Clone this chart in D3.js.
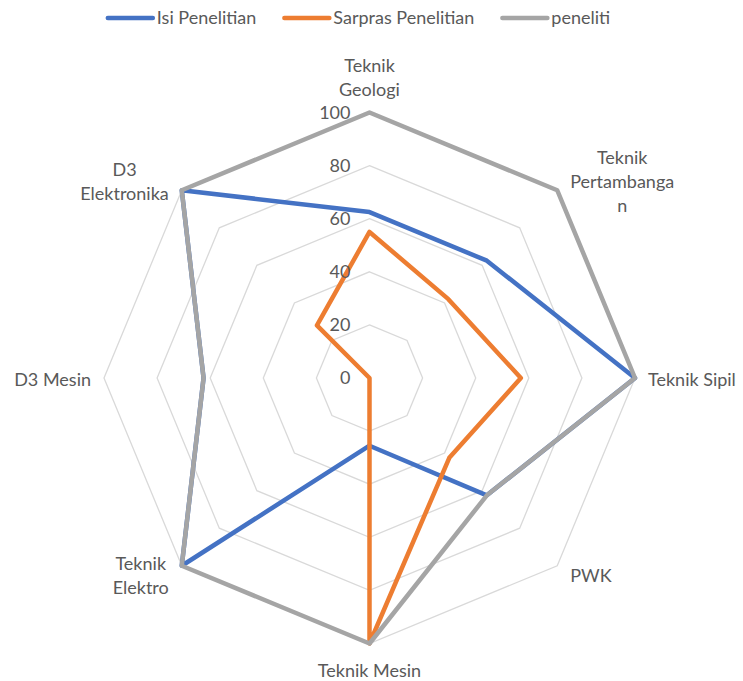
<!DOCTYPE html>
<html>
<head>
<meta charset="utf-8">
<script src="https://cdn.jsdelivr.net/npm/d3@7/dist/d3.min.js"></script>
<style>
  html, body { margin: 0; padding: 0; background: #ffffff; }
  svg { display: block; }
  text { font-family: Lato, "Open Sans", sans-serif; fill: #595959; }
</style>
</head>
<body>
<script>
// Radar chart: research scores per study programme
const categories = ["Teknik Geologi", "Teknik Pertambangan", "Teknik Sipil", "PWK",
                    "Teknik Mesin", "Teknik Elektro", "D3 Mesin", "D3 Elektronika"];
const categoryLines = [["Teknik", "Geologi"], ["Teknik", "Pertambanga", "n"], ["Teknik Sipil"], ["PWK"],
                       ["Teknik Mesin"], ["Teknik", "Elektro"], ["D3 Mesin"], ["D3", "Elektronika"]];
const seriesNames = ["Isi Penelitian", "Sarpras Penelitian", "peneliti"];
const isiPenelitian    = [62.5, 62.5, 100, 62.5, 25.5, 100, 62.5, 100];
const sarprasPenelitian = [55, 42, 57, 42.5, 100, 0, 0, 28];
const peneliti         = [100, 100, 100, 62.5, 100, 100, 62.5, 100];
const tickValues = [0, 20, 40, 60, 80, 100];
const seriesColors = ["#4472C4", "#ED7D31", "#A5A5A5"];

const W = 743, H = 681;
const cx = 369.5, cy = 378, R = 265.5;
const fontSize = 18;

const svg = d3.select("body").append("svg").attr("width", W).attr("height", H);

const rScale = d3.scaleLinear().domain([0, 100]).range([0, R]);
const angle = d3.scaleLinear().domain([0, categories.length]).range([0, 2 * Math.PI]);

const radial = d3.lineRadial()
  .angle((d, i) => angle(i))
  .radius(d => rScale(d))
  .curve(d3.curveLinearClosed);

const g = svg.append("g").attr("transform", `translate(${cx},${cy})`);

// grid rings
g.append("g").selectAll("path")
  .data(tickValues.filter(v => v > 0))
  .join("path")
  .attr("d", v => radial(categories.map(() => v)))
  .attr("fill", "none")
  .attr("stroke", "#D9D9D9")
  .attr("stroke-width", 1.3);

// series
const series = [isiPenelitian, sarprasPenelitian, peneliti];
g.append("g").selectAll("path")
  .data(series)
  .join("path")
  .attr("d", d => radial(d))
  .attr("fill", "none")
  .attr("stroke", (d, i) => seriesColors[i])
  .attr("stroke-width", 4.5)
  .attr("stroke-linejoin", "round");

// tick labels
g.append("g").selectAll("text")
  .data(tickValues)
  .join("text")
  .attr("x", -19)
  .attr("y", v => -rScale(v))
  .attr("dy", "0.35em")
  .attr("text-anchor", "end")
  .style("font-size", fontSize + "px")
  .text(v => v);

// category labels
const lineH = 24;
categories.forEach((c, i) => {
  const a = angle(i);
  const s = Math.sin(a), co = -Math.cos(a);
  const vx = rScale(100) * s, vy = rScale(100) * co;
  const lines = categoryLines[i];
  const grp = g.append("g");
  const texts = grp.selectAll("text").data(lines).join("text")
    .style("font-size", fontSize + "px")
    .attr("text-anchor", "middle")
    .attr("dy", "0.35em")
    .text(d => d);
  const bw = d3.max(texts.nodes(), n => n.getComputedTextLength());
  const bh = lines.length * lineH;
  const gap = 13;
  let bx, by; // block centre
  if (Math.abs(s) < 0.01) {
    bx = vx;
    by = co < 0 ? vy - gap - bh / 2 + 2 : vy + gap + bh / 2 + 2;
  } else if (Math.abs(co) < 0.01) {
    bx = s > 0 ? vx + gap + bw / 2 : vx - gap - bw / 2;
    by = vy + 2;
  } else {
    bx = s > 0 ? vx + gap + bw / 2 : vx - gap - bw / 2;
    by = vy + (co < 0 ? -9 : 10);
  }
  texts.attr("x", bx).attr("y", (d, k) => by - bh / 2 + lineH / 2 + k * lineH);
});

// legend
const legend = svg.append("g");
const items = legend.selectAll("g").data(seriesNames).join("g");
items.append("line")
  .attr("x1", 0).attr("x2", 45).attr("y1", 0).attr("y2", 0)
  .attr("stroke", (d, i) => seriesColors[i])
  .attr("stroke-width", 4.5)
  .attr("stroke-linecap", "round");
items.append("text")
  .attr("x", 49).attr("dy", "0.35em")
  .style("font-size", fontSize + "px")
  .text(d => d);
let xPos = 0;
const widths = items.nodes().map(n => n.getBBox().width);
items.attr("transform", (d, i) => {
  const t = xPos;
  xPos += widths[i] + 28;
  return `translate(${t},0)`;
});
const total = xPos - 28;
legend.attr("transform", `translate(${359 - total / 2},18)`);
</script>
</body>
</html>
